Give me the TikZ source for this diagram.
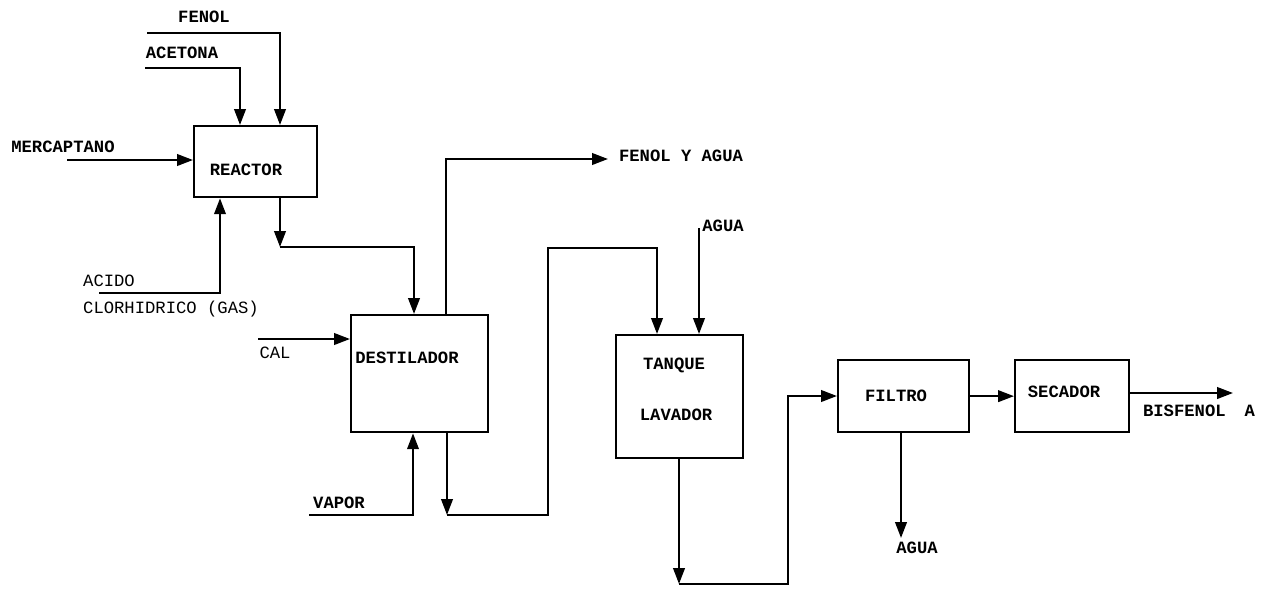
\documentclass[tikz,border=0pt]{standalone}
\usepackage{fontspec}
\setmonofont{Liberation Mono}
\usetikzlibrary{arrows.meta,calc}
\tikzset{
  box/.style={draw, line width=1.3pt, inner sep=0pt, anchor=north west},
  flow/.style={line width=1.3pt, -{Triangle[length=9pt,width=6.5pt]}},
  lbl/.style={font=\ttfamily\bfseries\fontsize{9.8}{11}\selectfont, inner sep=0pt},
  lblr/.style={font=\ttfamily\fontsize{9.8}{11}\selectfont, inner sep=0pt},
}
\begin{document}
\begin{tikzpicture}[x=0.02cm, y={(0,-0.02cm)}]
\useasboundingbox (0,0) rectangle (1266,589);
% boxes
\node[box, minimum width=123*0.02cm, minimum height=71*0.02cm] (reactor) at (193,125) {};
\node[box, minimum width=137*0.02cm, minimum height=117*0.02cm] (dest) at (350,314) {};
\node[box, minimum width=127*0.02cm, minimum height=123*0.02cm] (tank) at (615,334) {};
\node[box, minimum width=131*0.02cm, minimum height=72*0.02cm] (filtro) at (837,359) {};
\node[box, minimum width=114*0.02cm, minimum height=72*0.02cm] (secador) at (1014,359) {};
% box texts
\node[lbl] (treactor) at (246,170) {REACTOR};
\node[lbl] (tdest) at (407,358) {DESTILADOR};
\node[lbl] (ttank1) at (674,365) {TANQUE};
\node[lbl] (ttank2) at (676,415) {LAVADOR};
\node[lbl] (tfiltro) at (896,396) {FILTRO};
\node[lbl] (tsecador) at (1064,392) {SECADOR};
% stream labels
\node[lbl] (lfenol) at (204,17) {FENOL};
\node[lbl] (lacet) at (182,53) {ACETONA};
\node[lbl] (lmerc) at (63,147) {MERCAPTANO};
\node[lblr] (lacido) at (109,281) {ACIDO};
\node[lblr] (lclor) at (171,309) {CLORHIDRICO (GAS)};
\node[lblr] (lcal) at (275,353) {CAL};
\node[lbl] (lvapor) at (339,503) {VAPOR};
\node[lbl] (lfya) at (681,156) {FENOL Y AGUA};
\node[lbl] (lagua1) at (723,226) {AGUA};
\node[lbl] (lagua2) at (917,548) {AGUA};
\node[lbl] (lbis) at (1199,411) {BISFENOL\hspace{1.1em}A};
% coordinates
\coordinate (fenolS) at (147,33);
\coordinate (fenolB) at (280,33);
\coordinate (acetS) at (145,68);
\coordinate (acetB) at (240,68);
\coordinate (mercS) at (67,160);
\coordinate (acidS) at (99,293);
\coordinate (acidB) at (220,293);
\coordinate (c1) at (280,247);
\coordinate (c2) at (414,247);
\coordinate (d1) at (446,159);
\coordinate (fyaE) at (608,159);
\coordinate (calS) at (258,339);
\coordinate (vapS) at (309,515);
\coordinate (vapB) at (413,515);
\coordinate (e1) at (447,515);
\coordinate (e2) at (548,515);
\coordinate (e3) at (548,248);
\coordinate (e4) at (657,248);
\coordinate (aguaS) at (699,228);
\coordinate (f1) at (679,584);
\coordinate (f2) at (788,584);
\coordinate (f3) at (788,396);
\coordinate (bisE) at (1233,393);
\coordinate (h) at (901,538);
% connectors
\draw[flow] (fenolS) -- (fenolB) -- (fenolB |- reactor.north);
\draw[flow] (acetS) -- (acetB) -- (acetB |- reactor.north);
\draw[flow] (mercS) -- (mercS -| reactor.west);
\draw[flow] (acidS) -- (acidB) -- (acidB |- reactor.south);
\draw[flow] (c1 |- reactor.south) -- (c1);
\draw[flow] (c1) -- (c2) -- (c2 |- dest.north);
\draw[flow] (d1 |- dest.north) -- (d1) -- (fyaE);
\draw[flow] (calS) -- (calS -| dest.west);
\draw[flow] (vapS) -- (vapB) -- (vapB |- dest.south);
\draw[flow] (e1 |- dest.south) -- (e1);
\draw[flow] (e1) -- (e2) -- (e3) -- (e4) -- (e4 |- tank.north);
\draw[flow] (aguaS) -- (aguaS |- tank.north);
\draw[flow] (f1 |- tank.south) -- (f1);
\draw[flow] (f1) -- (f2) -- (f3) -- (f3 -| filtro.west);
\draw[flow] (filtro.east) -- (secador.west);
\draw[flow] (bisE -| secador.east) -- (bisE);
\draw[flow] (h |- filtro.south) -- (h);
\end{tikzpicture}
\end{document}
